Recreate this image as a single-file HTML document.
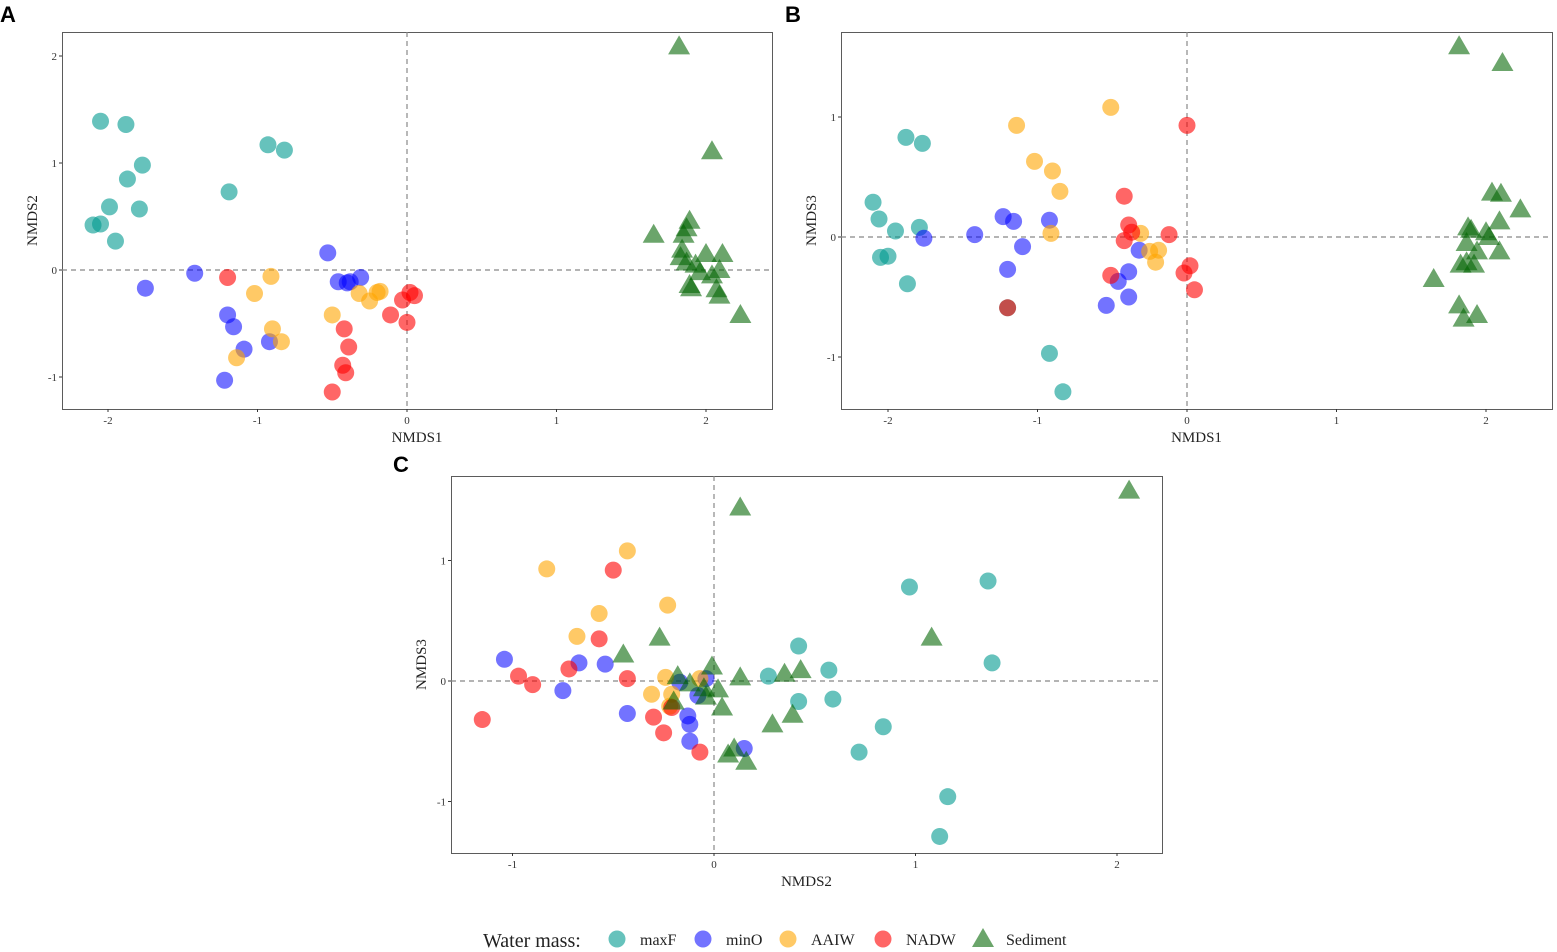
<!DOCTYPE html>
<html><head><meta charset="utf-8"><style>
html,body{margin:0;padding:0;background:#fff;}
svg{display:block;}
.tick{font-family:"Liberation Serif",serif;font-size:11px;fill:#333;}
.atitle{font-family:"Liberation Serif",serif;font-size:15px;fill:#222;}
.plabel{font-family:"Liberation Sans",sans-serif;font-size:22px;font-weight:bold;fill:#000;}
.leg{font-family:"Liberation Serif",serif;fill:#222;}
</style></head><body>
<svg id="chart" width="1557" height="952"></svg>
<script>
// ---- data ----
const groups = ["maxF","minO","AAIW","NADW","Sediment"];
const colors = ["#009990","#0000ff","#ffa500","#ff0000","#006400"];
// Panel A: NMDS1 vs NMDS2
const A_maxF_x=[-2.05,-1.88,-1.77,-1.87,-1.99,-1.79,-2.10,-2.05,-1.95,-1.19,-0.93,-0.82];
const A_maxF_y=[1.39,1.36,0.98,0.85,0.59,0.57,0.42,0.43,0.27,0.73,1.17,1.12];
const A_minO_x=[-1.75,-1.42,-1.20,-1.16,-1.09,-1.22,-0.92,-0.53,-0.46,-0.40,-0.38,-0.31];
const A_minO_y=[-0.17,-0.03,-0.42,-0.53,-0.74,-1.03,-0.67,0.16,-0.11,-0.12,-0.11,-0.07];
const A_AAIW_x=[-0.91,-1.02,-0.90,-0.84,-1.14,-0.50,-0.32,-0.25,-0.20,-0.18];
const A_AAIW_y=[-0.06,-0.22,-0.55,-0.67,-0.82,-0.42,-0.22,-0.29,-0.21,-0.20];
const A_NADW_x=[-1.20,-0.42,-0.39,-0.43,-0.41,-0.50,-0.11,-0.03,0.02,0.05,0.00];
const A_NADW_y=[-0.07,-0.55,-0.72,-0.89,-0.96,-1.14,-0.42,-0.28,-0.21,-0.24,-0.49];
const A_Sed_x=[1.82,2.04,1.65,1.87,1.89,1.85,1.84,1.83,1.87,1.93,2.00,2.11,1.96,2.09,1.89,1.90,2.07,2.09,2.23,2.04];
const A_Sed_y=[2.09,1.11,0.33,0.39,0.46,0.33,0.19,0.12,0.07,0.05,0.15,0.15,-0.02,0.00,-0.14,-0.17,-0.18,-0.24,-0.42,-0.05];
// Panel B: NMDS1 vs NMDS3
const B_maxF_x=[-1.88,-1.77,-2.10,-2.06,-1.95,-1.79,-2.05,-2.00,-1.87,-1.20,-0.92,-0.83];
const B_maxF_y=[0.83,0.78,0.29,0.15,0.05,0.08,-0.17,-0.16,-0.39,-0.59,-0.97,-1.29];
const B_minO_x=[-1.76,-1.42,-1.23,-1.16,-1.10,-1.20,-0.92,-0.54,-0.46,-0.39,-0.39,-0.32];
const B_minO_y=[-0.01,0.02,0.17,0.13,-0.08,-0.27,0.14,-0.57,-0.37,-0.29,-0.50,-0.11];
const B_AAIW_x=[-1.14,-0.51,-1.02,-0.90,-0.85,-0.91,-0.31,-0.25,-0.19,-0.21];
const B_AAIW_y=[0.93,1.08,0.63,0.55,0.38,0.03,0.03,-0.12,-0.11,-0.21];
const B_NADW_x=[0.00,-0.42,-0.39,-0.42,-0.37,-0.12,-0.51,-1.20,0.02,-0.02,0.05];
const B_NADW_y=[0.93,0.34,0.10,-0.03,0.04,0.02,-0.32,-0.59,-0.24,-0.30,-0.44];
const B_Sed_x=[1.82,2.11,1.65,2.04,2.10,2.09,2.23,1.88,1.90,2.00,2.02,1.87,1.94,2.09,1.87,1.83,1.92,1.82,1.85,1.94];
const B_Sed_y=[1.59,1.45,-0.35,0.37,0.36,0.13,0.23,0.08,0.06,0.04,0.00,-0.05,-0.12,-0.12,-0.21,-0.23,-0.23,-0.57,-0.68,-0.65];
// Panel C: NMDS2 vs NMDS3
const C_maxF_x=[0.97,1.36,1.38,0.42,0.27,0.57,0.42,0.59,0.84,0.72,1.16,1.12];
const C_maxF_y=[0.78,0.83,0.15,0.29,0.04,0.09,-0.17,-0.15,-0.38,-0.59,-0.96,-1.29];
const C_minO_x=[-1.04,-0.67,-0.54,-0.75,-0.43,-0.17,-0.04,-0.13,-0.12,-0.12,-0.08,0.15];
const C_minO_y=[0.18,0.15,0.14,-0.08,-0.27,-0.01,0.02,-0.29,-0.36,-0.50,-0.12,-0.56];
const C_AAIW_x=[-0.83,-0.43,-0.57,-0.23,-0.68,-0.24,-0.31,-0.21,-0.07,-0.22];
const C_AAIW_y=[0.93,1.08,0.56,0.63,0.37,0.03,-0.11,-0.11,0.02,-0.21];
const C_NADW_x=[-0.50,-0.57,-0.97,-0.90,-0.72,-0.43,-1.15,-0.30,-0.25,-0.21,-0.07];
const C_NADW_y=[0.92,0.35,0.04,-0.03,0.10,0.02,-0.32,-0.30,-0.43,-0.22,-0.59];
const C_Sed_x=[2.06,0.13,1.08,-0.27,-0.45,-0.01,0.13,0.35,0.43,-0.18,-0.12,-0.05,0.02,-0.04,0.04,-0.20,0.29,0.39,0.07,0.10,0.16];
const C_Sed_y=[1.58,1.44,0.36,0.36,0.22,0.12,0.03,0.06,0.09,0.04,-0.02,-0.06,-0.07,-0.13,-0.22,-0.17,-0.36,-0.28,-0.61,-0.56,-0.67];
const xTicksAB=[-2,-1,0,1,2];
const yTicksA=[-1,0,1,2];
const yTicksBC=[-1,0,1];
const xTicksC=[-1,0,1,2];

// ---- layout ----
const NS="http://www.w3.org/2000/svg";
const svg=document.getElementById('chart');
function mk(tag,attrs,parent){const e=document.createElementNS(NS,tag);for(const k in attrs)e.setAttribute(k,attrs[k]);(parent||svg).appendChild(e);return e;}
const panels=[
 {id:'a',letter:'A',box:[62,32,772,409],x0:407,xs:149.5,y0:270,ys:107,xt:xTicksAB,yt:yTicksA,xl:'NMDS1',yl:'NMDS2',lx:0,ly:22,
  data:[[A_maxF_x,A_maxF_y],[A_minO_x,A_minO_y],[A_AAIW_x,A_AAIW_y],[A_NADW_x,A_NADW_y],[A_Sed_x,A_Sed_y]]},
 {id:'b',letter:'B',box:[841,32,1552,409],x0:1187,xs:149.5,y0:237,ys:120,xt:xTicksAB,yt:yTicksBC,xl:'NMDS1',yl:'NMDS3',lx:785,ly:22,
  data:[[B_maxF_x,B_maxF_y],[B_minO_x,B_minO_y],[B_AAIW_x,B_AAIW_y],[B_NADW_x,B_NADW_y],[B_Sed_x,B_Sed_y]]},
 {id:'c',letter:'C',box:[451,476,1162,853],x0:714,xs:201.5,y0:681,ys:120.5,xt:xTicksC,yt:yTicksBC,xl:'NMDS2',yl:'NMDS3',lx:393,ly:472,
  data:[[C_maxF_x,C_maxF_y],[C_minO_x,C_minO_y],[C_AAIW_x,C_AAIW_y],[C_NADW_x,C_NADW_y],[C_Sed_x,C_Sed_y]]}
];
panels.forEach(p=>{
 const g=mk('g',{});
 
 
 const [L,T,R,B]=p.box;
 const sx=v=>p.x0+v*p.xs, sy=v=>p.y0-v*p.ys;
 const lab=mk('text',{x:p.lx,y:p.ly,class:'plabel'},g);lab.textContent=p.letter;
 
 
 const frame=mk('rect',{x:L+0.5,y:T+0.5,width:R-L,height:B-T,fill:'none',stroke:'#333','stroke-width':0.8},g);
 
 
 const vl=mk('line',{x1:sx(0),x2:sx(0),y1:T,y2:B,stroke:'#888','stroke-dasharray':'5,4','stroke-width':1.2},g);
 
 
 const hl=mk('line',{x1:L,x2:R,y1:sy(0),y2:sy(0),stroke:'#888','stroke-dasharray':'5,4','stroke-width':1.2},g);
 
 
 p.xt.forEach(v=>{
  mk('line',{x1:sx(v),x2:sx(v),y1:B,y2:B+3,stroke:'#333'},g);
  const t=mk('text',{x:sx(v),y:B+15,'text-anchor':'middle',class:'tick'},g);t.textContent=v;
  
  
 });
 p.yt.forEach(v=>{
  mk('line',{x1:L-3,x2:L,y1:sy(v),y2:sy(v),stroke:'#333'},g);
  const t=mk('text',{x:L-5,y:sy(v)+4,'text-anchor':'end',class:'tick'},g);t.textContent=v;
  
  
 });
 const xt=mk('text',{x:(L+R)/2,y:B+33,'text-anchor':'middle',class:'atitle'},g);xt.textContent=p.xl;
 
 
 const yx=L-25,yy=(T+B)/2;
 const yt=mk('text',{x:yx,y:yy,'text-anchor':'middle',class:'atitle',transform:`rotate(-90 ${yx} ${yy})`},g);yt.textContent=p.yl;
 
 
 p.data.forEach((d,gi)=>{
  const xs=d[0],ys=d[1];
  for(let i=0;i<xs.length;i++){
   const cx=sx(xs[i]),cy=sy(ys[i]);
   let m;
   if(gi===4){
    m=mk('polygon',{points:`${cx},${cy-11} ${cx-11},${cy+8} ${cx+11},${cy+8}`,fill:colors[gi],'fill-opacity':0.58},g);
   }else{
    m=mk('circle',{cx:cx,cy:cy,r:8.5,fill:colors[gi],'fill-opacity':gi===1?0.55:0.6},g);
   }
   
   
  }
 });
});
// legend
const lg=mk('g',{});


const lt=mk('text',{x:483,y:947,class:'leg','font-size':20},lg);lt.textContent='Water mass:';


const legX=[617,703,788,883,983];
groups.forEach((gname,gi)=>{
 const cx=legX[gi],cy=939;
 let m;
 if(gi===4) m=mk('polygon',{points:`${cx},${cy-11} ${cx-11},${cy+8} ${cx+11},${cy+8}`,fill:colors[gi],'fill-opacity':0.58},lg);
 else m=mk('circle',{cx:cx,cy:cy,r:8.5,fill:colors[gi],'fill-opacity':gi===1?0.55:0.6},lg);
 
 
 const t=mk('text',{x:cx+23,y:945,class:'leg','font-size':16},lg);t.textContent=gname;
 
 
});
</script>
</body></html>
